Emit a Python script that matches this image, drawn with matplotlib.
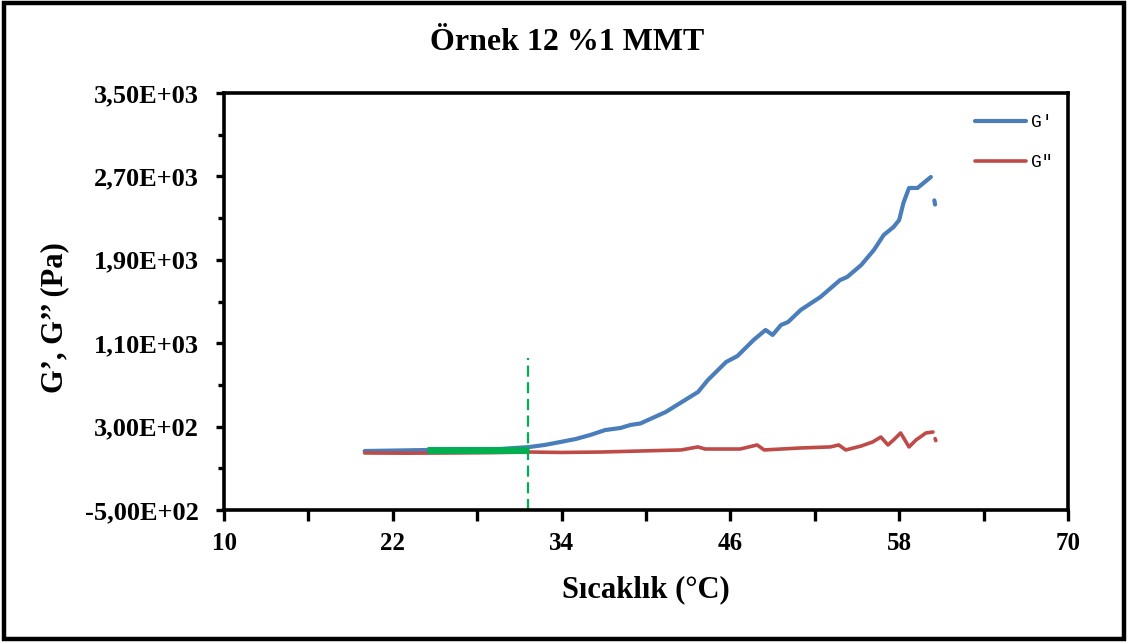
import matplotlib
matplotlib.use("Agg")
import matplotlib.pyplot as plt
import numpy as np
from matplotlib.ticker import FuncFormatter
from matplotlib.patches import Rectangle

# Storage modulus G' vs temperature
g1_temp = [20.0, 22.0, 24.7, 27.0, 29.6, 31.7, 32.8, 33.9, 35.0, 36.05, 37.1, 38.2,
           38.9, 39.6, 41.4, 43.7, 44.4, 45.7, 46.5, 47.65, 48.5, 49.0, 49.6, 50.1,
           51.0, 52.4, 53.8, 54.3, 55.3, 56.2, 56.9, 57.6, 58.0, 58.3, 58.7, 59.3,
           60.25, np.nan, 60.5, 60.55]
g1_vals = [66, 70, 76, 80, 85, 104, 124, 152, 181, 220, 267, 287,
           316, 330, 440, 632, 747, 920, 977, 1131, 1227, 1179, 1275, 1303,
           1419, 1543, 1706, 1735, 1850, 1994, 2138, 2215, 2282, 2445, 2589, 2589,
           2694, np.nan, 2470, 2430]

# Loss modulus G'' vs temperature
g2_temp = [20.0, 23.0, 26.1, 29.0, 31.8, 34.0, 36.8, 39.6, 42.5, 43.7, 44.2, 46.7,
           47.9, 48.4, 51.0, 53.1, 53.7, 54.2, 55.3, 56.1, 56.7, 57.2, 57.6, 58.1,
           58.7, 59.2, 59.9, 60.4, np.nan, 60.55, 60.6]
g2_vals = [47, 45, 47, 50, 56, 52, 56, 66, 76, 105, 85, 85,
           124, 76, 95, 105, 124, 76, 114, 152, 200, 124, 172, 239,
           105, 172, 239, 248, np.nan, 185, 165]

# Linear viscoelastic plateau and gel-point marker
plateau_temp = [24.4, 31.7]
plateau_vals = [80, 80]
gel_temp = 31.6
gel_top = 960

x_ticks = [10, 22, 34, 46, 58, 70]
x_minor = [16, 28, 40, 52, 64]
y_ticks = [-500, 300, 1100, 1900, 2700, 3500]
y_minor = [-100, 700, 1500, 2300, 3100]

title = "Örnek 12 %1 MMT"
xlabel = "Sıcaklık (°C)"
ylabel = "G’, G’’ (Pa)"
legend_labels = ["G'", 'G"']

W, H = 1128, 642
fig = plt.figure(figsize=(W / 100, H / 100), dpi=100)
fig.patch.set_facecolor("white")

serif = ["Liberation Serif", "DejaVu Serif"]

ax = fig.add_axes([224 / W, 1 - 510 / H, (1068 - 224) / W, (510 - 93) / H])

l1, = ax.plot(g1_temp, g1_vals, color="#4A7EBB", lw=3.0, solid_capstyle="round")
l2, = ax.plot(g2_temp, g2_vals, color="#BE4B48", lw=2.6, solid_capstyle="round")
ax.plot(plateau_temp, plateau_vals, color="#00B050", lw=5.0, solid_capstyle="butt")
ax.plot([gel_temp, gel_temp], [-500, gel_top], color="#00B050", lw=1.6,
        dashes=(5, 2.5))

ax.set_xlim(10, 70)
ax.set_ylim(-500, 3500)
ax.set_xticks(x_ticks)
ax.set_xticks(x_minor, minor=True)
ax.set_yticks(y_ticks)
ax.set_yticks(y_minor, minor=True)
ax.yaxis.set_major_formatter(FuncFormatter(lambda v, p: f"{v:.2E}".replace(".", ",")))

for s in ["left", "bottom", "right", "top"]:
    ax.spines[s].set_linewidth(2.6)
    ax.spines[s].set_color("black")

ax.tick_params(axis="y", which="major", direction="out", length=6, width=2.4, pad=12)
ax.tick_params(axis="y", which="minor", direction="out", length=4, width=2.4)
ax.tick_params(axis="x", which="both", direction="out", length=8, width=2.4, pad=8)
ax.tick_params(right=False, top=False)

for lab in ax.get_yticklabels():
    lab.set_fontfamily(serif)
    lab.set_fontweight("bold")
    lab.set_fontsize(19)
for lab in ax.get_xticklabels():
    lab.set_fontfamily(serif)
    lab.set_fontweight("bold")
    lab.set_fontsize(18)

fig.text(567 / W, 1 - 42 / H, title, ha="center", va="center",
         fontfamily=serif, fontweight="bold", fontsize=23)
fig.text(646 / W, 1 - 590 / H, xlabel, ha="center", va="center",
         fontfamily=serif, fontweight="bold", fontsize=22)
fig.text(55 / W, 1 - 318 / H, ylabel, ha="center", va="center", rotation=90,
         fontfamily=serif, fontweight="bold", fontsize=22)

leg = fig.legend([l1, l2], legend_labels, loc="upper left",
                 bbox_to_anchor=(975 / W, 1 - 114 / H), frameon=False,
                 handlelength=2.8, handletextpad=0.3, labelspacing=1.3,
                 borderpad=0, borderaxespad=0,
                 prop={"family": "Liberation Mono", "size": 13})

fig.patches.append(Rectangle((4 / W, 3 / H), (W - 8) / W, (H - 6) / H,
                             transform=fig.transFigure, fill=False,
                             edgecolor="black", lw=3.2))

fig.savefig("out.png", dpi=100)
